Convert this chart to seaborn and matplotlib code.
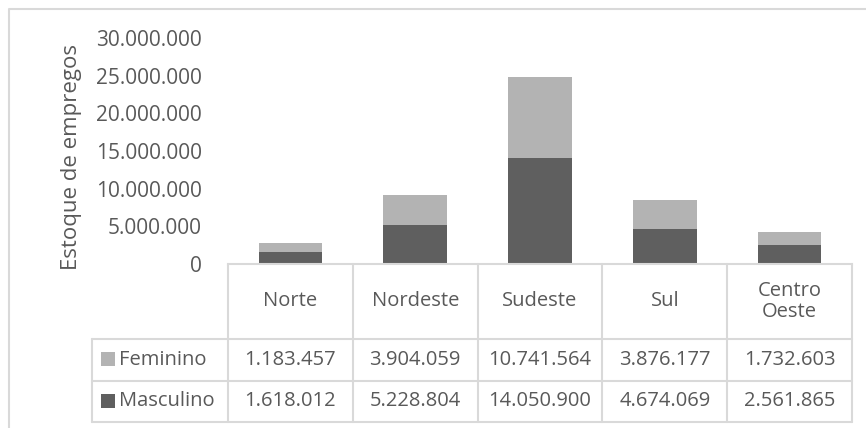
import matplotlib
matplotlib.use('Agg')
import matplotlib.pyplot as plt
import seaborn as sns
import numpy as np
import pandas as pd
from matplotlib.ticker import FuncFormatter, MultipleLocator

# --- DATA ---
regioes = ['Norte', 'Nordeste', 'Sudeste', 'Sul', 'Centro\nOeste']
feminino = [1183457, 3904059, 10741564, 3876177, 1732603]
masculino = [1618012, 5228804, 14050900, 4674069, 2561865]
series = ['Feminino', 'Masculino']

# --- STYLE ---
sns.set_theme(style='white')
plt.rcParams['font.family'] = ['Open Sans', 'DejaVu Sans']
cor_texto = '#595959'
cor_linha = '#d9d9d9'
cor_fem = '#b3b3b3'
cor_masc = '#5f5f5f'
fs = 15
fs_tab = 14.5

W, H = 866, 428
fig = plt.figure(figsize=(W / 100, H / 100), dpi=100)

def fx(px):
    return px / W

def fy(py):
    return 1 - py / H

# geometry of chart (pixels)
x_left, x_right = 228, 852
y_top, y_zero = 38, 264
lab_left = 92
row_y = [264, 339, 381, 422]

df = pd.DataFrame({'regiao': regioes, 'Feminino': feminino, 'Masculino': masculino})
df['total'] = df['Feminino'] + df['Masculino']

ax = fig.add_axes([fx(x_left), fy(y_zero), fx(x_right - x_left), fy(y_top) - fy(y_zero)])
sns.barplot(data=df, x='regiao', y='total', color=cor_fem, width=0.51,
            saturation=1, ax=ax, linewidth=0)
sns.barplot(data=df, x='regiao', y='Masculino', color=cor_masc, width=0.51,
            saturation=1, ax=ax, linewidth=0)
ax.set_xlim(-0.5, len(regioes) - 0.5)
ax.set_ylim(0, 30_000_000)
ax.yaxis.set_major_locator(MultipleLocator(5_000_000))
ax.yaxis.set_major_formatter(FuncFormatter(lambda v, p: f'{int(v):,}'.replace(',', '.')))
ax.tick_params(axis='y', length=0, pad=19, labelsize=fs, labelcolor=cor_texto)
ax.set_xticks([])
ax.set_xlabel('')
ax.set_ylabel('')
for s in ['top', 'right', 'left']:
    ax.spines[s].set_visible(False)
ax.spines['bottom'].set_color(cor_linha)
ax.spines['bottom'].set_linewidth(1.5)
ax.grid(False)

fig.text(fx(71), fy(157), 'Estoque de empregos', rotation=90, ha='center', va='center',
         fontsize=16, color=cor_texto)

# --- DATA TABLE ---
tab = fig.add_axes([0, 0, 1, 1], facecolor='none')
tab.set_xlim(0, W)
tab.set_ylim(H, 0)
tab.axis('off')
lw = 1.5
col_w = (x_right - x_left) / len(regioes)
col_x = [x_left + i * col_w for i in range(len(regioes) + 1)]
for cx in col_x:
    tab.plot([cx, cx], [row_y[0], row_y[-1]], color=cor_linha, lw=lw)
tab.plot([lab_left, lab_left], [row_y[1], row_y[-1]], color=cor_linha, lw=lw)
for ry in row_y[1:]:
    tab.plot([lab_left, x_right], [ry, ry], color=cor_linha, lw=lw)

for i, r in enumerate(regioes):
    cx = col_x[i] + col_w / 2
    tab.text(cx, (row_y[0] + row_y[1]) / 2, r, ha='center', va='center',
             fontsize=fs_tab, color=cor_texto, linespacing=1.1)
    for j, vals in enumerate([feminino, masculino]):
        tab.text(cx, (row_y[j + 1] + row_y[j + 2]) / 2, f'{vals[i]:,}'.replace(',', '.'),
                 ha='center', va='center', fontsize=fs_tab, color=cor_texto)

for j, (nome, cor) in enumerate(zip(series, [cor_fem, cor_masc])):
    ym = (row_y[j + 1] + row_y[j + 2]) / 2
    tab.scatter([108], [ym - 1], marker='s', s=95, color=cor, linewidths=0)
    tab.text(119, ym, nome, ha='left', va='center', fontsize=fs_tab, color=cor_texto)

# outer frame
tab.plot([8.5, 8.5, W], [H, 8.5, 8.5], color=cor_linha, lw=1.5)

fig.savefig('out.png', dpi=100)
